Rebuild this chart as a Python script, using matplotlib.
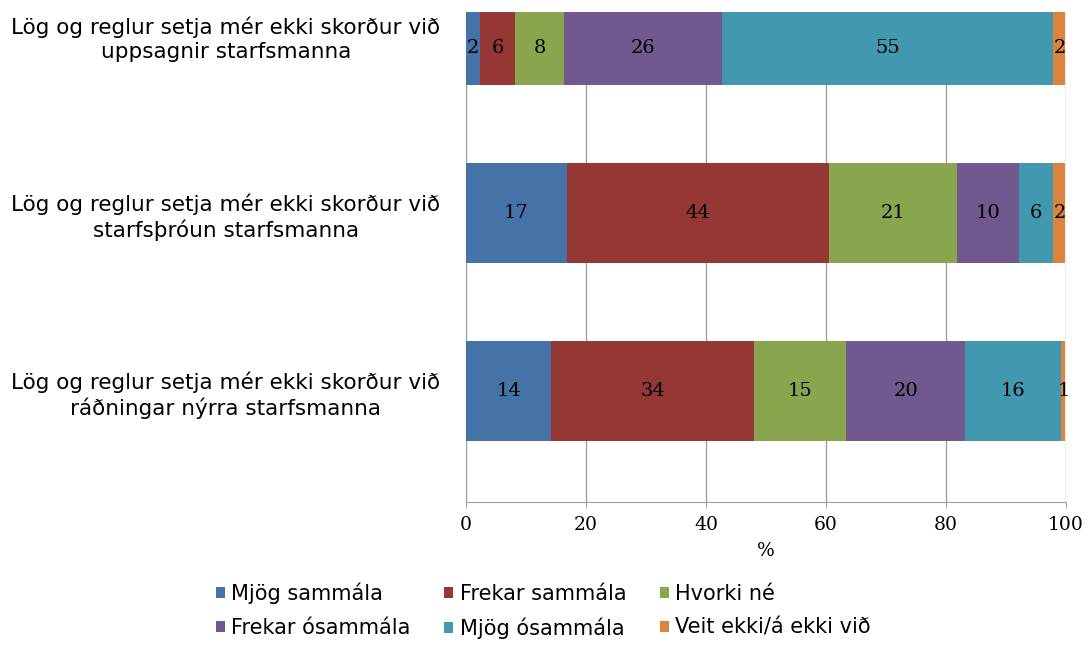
import matplotlib.pyplot as plt

# Categories from bottom to top
categories = [
    'Lög og reglur setja mér ekki skorður við\nráðningar nýrra starfsmanna',
    'Lög og reglur setja mér ekki skorður við\nstarfsþróun starfsmanna',
    'Lög og reglur setja mér ekki skorður við\nuppsagnir starfsmanna',
]
series_names = ['Mjög sammála', 'Frekar sammála', 'Hvorki né',
                'Frekar ósammála', 'Mjög ósammála', 'Veit ekki/á ekki við']
mjog_sammala = [14.2, 16.8, 2.4]
frekar_sammala = [33.8, 43.7, 5.7]
hvorki_ne = [15.4, 21.3, 8.3]
frekar_osammala = [19.8, 10.3, 26.3]
mjog_osammala = [16.0, 5.8, 55.2]
veit_ekki = [0.7, 2.0, 2.0]
series = [mjog_sammala, frekar_sammala, hvorki_ne,
          frekar_osammala, mjog_osammala, veit_ekki]

colors = ['#4572A7', '#953735', '#89A54E', '#71588F', '#4198AF', '#DB843D']

fig = plt.figure(figsize=(10.88, 6.46), dpi=100)
ax = fig.add_axes([0.4283, 0.2229, 0.5515, 0.7585])

ypos = range(len(categories))
left = [0.0] * len(categories)
handles = []
for vals, name, col in zip(series, series_names, colors):
    bars = ax.barh(ypos, vals, left=left, height=0.56, color=col,
                   label=name, zorder=3)
    handles.append(bars)
    ax.bar_label(bars, labels=[f'{v:.0f}' for v in vals], label_type='center',
                 fontsize=14, family='DejaVu Serif', color='black')
    left = [l + v for l, v in zip(left, vals)]

ax.set_xlim(0, 100)
ax.set_ylim(-0.624, 2.13)
ax.set_xticks([0, 20, 40, 60, 80, 100])
ax.tick_params(axis='x', labelsize=13.5, length=4, color='#A0A0A0', pad=6,
               labelfontfamily='DejaVu Serif')
ax.set_yticks(list(ypos))
ax.set_yticklabels(categories, fontsize=15.5, ha='center', linespacing=1.25)
ax.tick_params(axis='y', length=0, pad=173)
ax.set_xlabel('%', fontsize=13.5, labelpad=6, family='DejaVu Serif')
ax.grid(axis='x', color='#A0A0A0', linewidth=1, zorder=0)
for side in ['top', 'right']:
    ax.spines[side].set_visible(False)
for side in ['left', 'bottom']:
    ax.spines[side].set_color('#A0A0A0')

order = [0, 3, 1, 4, 2, 5]
fig.legend([handles[i] for i in order], [series_names[i] for i in order],
           ncol=3, loc='upper left', bbox_to_anchor=(0.181, 0.127),
           frameon=False, fontsize=15, handlelength=0.45, handleheight=0.45,
           handletextpad=0.3, columnspacing=1.6, labelspacing=0.65)

fig.savefig('out.png', dpi=100)
